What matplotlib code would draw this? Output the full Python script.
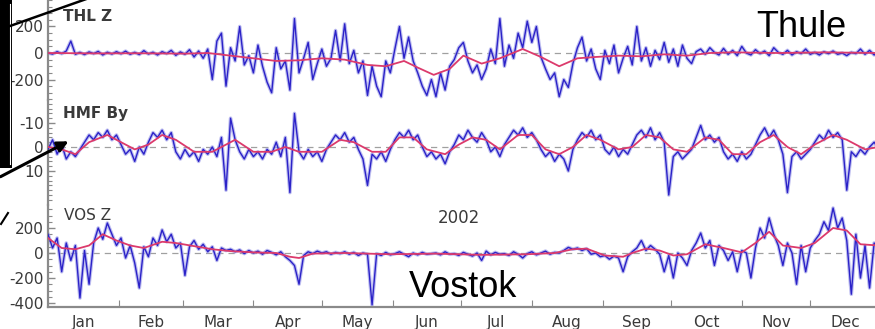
import numpy as np
import matplotlib
matplotlib.use('Agg')
import matplotlib.pyplot as plt
from matplotlib.lines import Line2D
from matplotlib.patches import Rectangle, FancyArrowPatch

W, H = 875, 329

MONTHS = ["Jan", "Feb", "Mar", "Apr", "May", "Jun",
          "Jul", "Aug", "Sep", "Oct", "Nov", "Dec"]
MONTH_START = [0, 31, 59, 90, 120, 151, 181, 212, 243, 273, 304, 334, 365]

# raw series, one value every 2 days from Jan 1
THL_Z = [0, -8, 10, -5, 15, 90, -10, 5, -12, 8,
         -5, 12, -15, 6, -8, 10, -6, 14, -10, 5,
         -12, 18, -8, 6, -15, 10, -5, 20, -18, 8,
         -10, 25, -30, 15, -40, 30, -200, 90, 150, -250,
         40, -60, 200, -90, -20, -150, 60, -100, -220, -300,
         40, -120, -60, -280, 260, -150, -40, 80, -200, -80,
         30, -100, -40, 170, -60, 220, -80, 20, -150, -60,
         -320, -100, -250, -330, -60, -150, 30, 200, -40, 120,
         -60, -150, -250, -320, -200, -330, -150, -280, -100, -50,
         40, 80, -60, -150, -90, -200, -120, 30, -80, 260,
         -100, 60, -40, 150, 40, 240, 80, 200, -30, -120,
         -200, -150, -330, -200, -260, -80, 40, 120, -60, 30,
         -120, -200, 20, -80, 60, -150, -40, 50, -90, 200,
         -60, 40, -100, 20, -50, 80, -70, 30, -100, 60,
         -40, -80, 10, 30, -10, 40, 5, -15, 35, -10,
         20, -20, 50, 0, -15, 25, -5, 15, -20, 40,
         5, -10, 20, -15, 10, -5, 30, -10, 5, -15,
         10, -5, 15, -10, 0, -20, 5, -5, 30, -10,
         20, -15, 10]
HMF_BY = [1, -3, 3, -1, 5, 2, 4, 1, -2, -5,
          -3, -6, -4, -7, -3, -5, -1, 3, 1, 6,
          0, 3, -2, -6, -4, -7, -3, -6, 2, 5,
          1, 4, 2, 6, 1, 3, 0, 4, -4, 18,
          -12, -3, 2, 5, 1, 4, 2, 5, 1, 3,
          -2, 4, -4, 19, -14, 2, 5, 1, 4, 2,
          6, 1, -2, -5, -3, -6, -2, -4, 1, 5,
          16, 3, 5, 2, 6, 1, -3, -6, -4, -7,
          -3, -5, 0, 4, 2, 5, 3, 7, 2, -1,
          -5, -3, -7, -4, -2, -6, -3, 2, 0, 4,
          -1, -4, -7, -5, -8, -4, -6, -3, 1, 4,
          2, 6, 3, 5, 10, 1, -3, -6, -4, -7,
          -3, -5, 1, 3, 0, 4, 1, 3, -1, -5,
          -7, -4, -8, -3, -6, -2, 20, 4, 2, 5,
          3, 1, -4, -9, -3, -5, -2, -4, 2, 5,
          3, 6, 2, 5, 3, -1, -5, -8, -4, -7,
          -3, 3, 19, 4, 2, 5, 3, 1, -2, -5,
          -3, -7, -4, -6, -3, 18, 2, 4, 1, 3,
          0, -2, 1]
VOS_Z = [150, 40, 120, -150, 80, -60, 60, -360, 20, -250,
         80, 200, 110, 240, 150, 60, 120, -40, 60, -80,
         -280, 50, -30, 120, 60, 185, 90, 150, 40, 80,
         -180, 50, 100, 30, 70, 10, 50, -60, 40, 20,
         30, 10, 25, -5, 20, 0, 15, -10, 20, 5,
         -15, 10, -30, -60, -100, -250, -20, 10, -5, 15,
         0, 10, -10, 5, -5, 10, -10, 5, -20, 0,
         -10, -415, -5, -20, 5, -15, -5, 10, -10, -30,
         0, -15, 5, -10, -5, 0, -15, 10, -10, -5,
         -20, 5, -10, -25, 0, -60, 15, -15, 5, -10,
         -5, -20, 10, -10, -40, -5, 10, -15, 0, 15,
         -10, 5, 0, 20, 45, 30, 40, 20, 35, -10,
         0, -30, -20, -50, -25, -40, -150, -30, 10, 40,
         100, 20, 60, 30, -10, -150, -20, -200, 0, -40,
         -100, 20, 80, 160, 40, 100, -100, 60, 20, -60,
         10, -150, 20, 0, -200, 40, 200, 120, 280, 150,
         60, -100, 80, 0, -250, 60, -150, 40, 100, 150,
         250, 180, 360, 200, 280, 100, -330, 150, -200, 60,
         -280, 80, 20]

# smoothed (red) curves: day of year, value
THL_SM_DAY = [0, 20, 40, 60, 70, 80, 90, 100, 110, 120, 130, 140, 148, 156,
              162, 169, 176, 182, 190, 198, 208, 216, 224, 232, 240, 250,
              260, 270, 280, 290, 300, 320, 340, 364]
THL_SM = [0, -3, -2, -5, 0, -20, -40, -60, -55, -40, -50, -90, -100, -60,
          -110, -165, -120, -20, -80, -40, 30, -30, -100, -40, -30, -20,
          -25, -10, -20, 0, 5, 0, 5, 0]
HMF_SM_DAY = [0, 6, 12, 18, 26, 32, 38, 44, 50, 56, 64, 72, 78, 82, 90, 98,
              104, 110, 120, 128, 134, 142, 148, 154, 160, 166, 174, 180,
              186, 192, 198, 206, 212, 218, 224, 230, 236, 242, 250, 256,
              262, 268, 274, 280, 288, 294, 300, 306, 312, 318, 324, 330,
              336, 344, 350, 358, 364]
HMF_SM = [0, 1, 3, -2, -5, -2, 1, -1, -5, -3, 2, 2, -1, -3, 2, 2,
          0, 2, 2, -3, -2, 2, 2, -4, -4, 1, 3, -1,
          -4, -3, 1, -5, -5, 1, 3, 0, -5, -3, 1, 0,
          -5, -4, 1, 2, -4, -3, 3, 3, -2, -5, 0, 3,
          -1, -5, -3, 1, 0]
VOS_SM_DAY = [0, 6, 12, 18, 24, 30, 36, 42, 50, 56, 64, 72, 80, 90, 100,
              106, 110, 116, 130, 150, 170, 190, 210, 222, 230, 236, 244,
              252, 256, 262, 268, 274, 280, 288, 296, 304, 310, 316, 322,
              330, 336, 344, 350, 356, 364]
VOS_SM = [120, 40, 30, 60, 150, 100, 60, 40, 90, 80, 55, 30, 15, 5, 0,
          -30, -40, -5, 0, -10, -5, -15, -10, 0, 30, 35, -20,
          -30, 0, 35, 20, -20, -10, 70, 40, 5, 80, 170, 60,
          40, 80, 200, 180, 70, 60]

BLUE = '#2b22c8'
HALO = '#9c9ce8'
RED = '#dc3a6c'
GREY = '#8a8a8a'
TXT = '#3a3a3a'

plt.rcParams['axes.unicode_minus'] = False


def px(x, y):
    return x / W, 1 - y / H


def panel(top, bottom):
    ax = fig.add_axes([48 / W, 1 - bottom / H, 833 / W, (bottom - top) / H])
    ax.patch.set_alpha(0)
    for s in ['top', 'right', 'bottom']:
        ax.spines[s].set_visible(False)
    ax.spines['left'].set_color(GREY)
    ax.spines['left'].set_linewidth(1.6)
    ax.set_xlim(0, 365)
    ax.tick_params(axis='y', which='both', direction='in', colors=GREY,
                   labelcolor=TXT, labelsize=11, pad=3)
    ax.tick_params(axis='y', which='major', length=5, width=1)
    ax.tick_params(axis='y', which='minor', length=3, width=0.8)
    ax.tick_params(axis='x', which='both', bottom=False, labelbottom=False)
    return ax


def draw(ax, vals, sm_day, sm):
    days = np.arange(len(vals)) * 2
    ax.axhline(0, color='#a0a0a0', lw=0.9, ls=(0, (5, 4)), zorder=1)
    ax.plot(days, vals, color=HALO, lw=2.6, alpha=0.65, zorder=2)
    ax.plot(days, vals, color=BLUE, lw=1.0, zorder=3)
    ax.plot(sm_day, sm, color=RED, lw=1.3, zorder=4)


fig = plt.figure(figsize=(W / 100, H / 100), dpi=100)
fig.patch.set_facecolor('white')

ax1 = panel(-5, 100)
draw(ax1, THL_Z, THL_SM_DAY, THL_SM)
ax1.set_ylim(-354.7, 437.7)
ax1.set_yticks([-200, 0, 200])
ax1.set_yticks(np.arange(-350, 450, 50), minor=True)
ax1.text(6.5, 241, "THL Z", fontsize=11, fontweight='bold', color=TXT)
ax1.text(330, 121, "Thule", fontsize=26, family='Liberation Sans',
         ha='center', va='baseline', color='black')

ax2 = panel(100, 205)
draw(ax2, HMF_BY, HMF_SM_DAY, HMF_SM)
ax2.set_ylim(24.17, -19.58)
ax2.set_yticks([-10, 0, 10])
ax2.set_yticks(np.arange(-18, 24, 2), minor=True)
ax2.text(6.5, -12.1, "HMF By", fontsize=11, fontweight='bold', color=TXT)

ax3 = panel(205, 307)
draw(ax3, VOS_Z, VOS_SM_DAY, VOS_SM)
ax3.set_ylim(-432, 384)
ax3.set_yticks([-400, -200, 0, 200])
ax3.set_yticks(np.arange(-400, 400, 50), minor=True)
ax3.spines['bottom'].set_visible(True)
ax3.spines['bottom'].set_color(GREY)
ax3.spines['bottom'].set_linewidth(1.6)
ax3.set_xticks(MONTH_START[1:-1])
ax3.set_xticks([(a + b) / 2 for a, b in zip(MONTH_START[:-1], MONTH_START[1:])],
               minor=True)
ax3.set_xticklabels(MONTHS, minor=True)
ax3.tick_params(axis='x', which='major', bottom=True, direction='in',
                length=5, color=GREY, labelbottom=False)
ax3.tick_params(axis='x', which='minor', bottom=False, labelbottom=True,
                labelsize=11, labelcolor=TXT, pad=4)
ax3.text(7, 264, "VOS Z", fontsize=11, color=TXT)
ax3.text(180, 240, "2002", fontsize=12, color=TXT, ha='center')
ax3.text(182, -352, "Vostok", fontsize=26, family='Liberation Sans',
         ha='center', va='baseline', color='black')

# slide overlay: black strip and arrows on the left
x0, y0 = px(0, 168)
fig.add_artist(Rectangle((x0, y0), 11.5 / W, 168 / H, transform=fig.transFigure,
                         facecolor='black', edgecolor='none', zorder=10))
fig.add_artist(Line2D(*zip(px(9.5, 4), px(9.5, 164)), transform=fig.transFigure,
                      color='white', lw=0.8, zorder=11))
fig.add_artist(Line2D(*zip(px(10, 26), px(92, -3)), transform=fig.transFigure,
                      color='black', lw=1.8, zorder=11))
fig.add_artist(FancyArrowPatch(px(-2, 178), px(71, 140), transform=fig.transFigure,
                               arrowstyle='-|>', mutation_scale=16, lw=2.2,
                               color='black', zorder=11))
fig.add_artist(Line2D(*zip(px(1, 224), px(8, 213)), transform=fig.transFigure,
                      color='black', lw=1.5, zorder=11))

fig.savefig('out.png', dpi=100, facecolor='white')
